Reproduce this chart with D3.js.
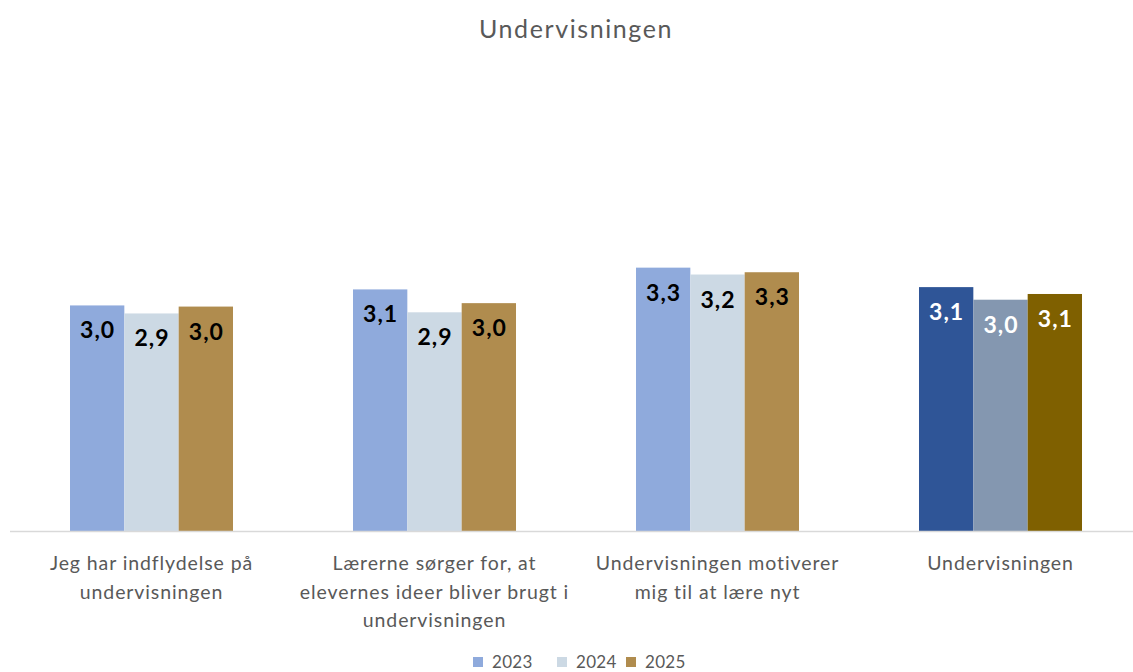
<!DOCTYPE html>
<html><head><meta charset="utf-8">
<script src="https://cdn.jsdelivr.net/npm/d3@7"></script>
<style>body{margin:0;background:#fff}svg{display:block}</style>
</head><body>
<svg id="c" width="1133" height="672"></svg>
<script>
const title = "Undervisningen";
const categories = [
  ["Jeg har indflydelse på", "undervisningen"],
  ["Lærerne sørger for, at", "elevernes ideer bliver brugt i", "undervisningen"],
  ["Undervisningen motiverer", "mig til at lære nyt"],
  ["Undervisningen"]
];
const years = ["2023", "2024", "2025"];
const v2023 = [2.97, 3.11, 3.30, 3.13];
const v2024 = [2.90, 2.91, 3.24, 3.02];
const v2025 = [2.96, 2.99, 3.26, 3.07];
const seriesValues = [v2023, v2024, v2025];
const colors = ["#8FAADC", "#CCD9E4", "#B08C4E"];
const totalColors = ["#2F5597", "#8497B0", "#7F6000"];
const yDomain = [1, 5];

const svg = d3.select("#c");
const font = "Lato, 'Open Sans', sans-serif";

const x0 = d3.scaleBand().domain(d3.range(categories.length)).range([10, 1142]).paddingInner(0.424).paddingOuter(0.212);
const x1 = d3.scaleBand().domain(years).range([0, x0.bandwidth()]);
const y = d3.scaleLinear().domain(yDomain).range([531, 73]);

svg.append("text").attr("x", 576).attr("y", 38).attr("text-anchor", "middle")
  .attr("font-family", font).attr("font-size", 25).attr("letter-spacing", 1.6)
  .attr("fill", "#595959").text(title);

const groups = svg.selectAll("g.grp").data(categories).join("g")
  .attr("transform", (d, i) => `translate(${x0(i)},0)`);

years.forEach((yr, s) => {
  groups.append("rect")
    .attr("x", x1(yr)).attr("width", x1.bandwidth())
    .attr("y", (d, i) => y(seriesValues[s][i]))
    .attr("height", (d, i) => y(yDomain[0]) - y(seriesValues[s][i]))
    .attr("fill", (d, i) => i === categories.length - 1 ? totalColors[s] : colors[s]);
  groups.append("text")
    .attr("x", x1(yr) + x1.bandwidth() / 2 + 0.5)
    .attr("y", (d, i) => y(seriesValues[s][i]) + 33)
    .attr("text-anchor", "middle")
    .attr("font-family", font).attr("font-weight", "bold").attr("font-size", 23)
    .attr("letter-spacing", 1)
    .attr("fill", (d, i) => i === categories.length - 1 ? "#ffffff" : "#000000")
    .text((d, i) => seriesValues[s][i].toFixed(1).replace(".", ","));
});

// axis line
svg.append("line").attr("x1", 10).attr("x2", 1142).attr("y1", 531.5).attr("y2", 531.5)
  .attr("stroke", "#D9D9D9").attr("stroke-width", 1.5);

// category labels
groups.each(function(lines, i) {
  const t = d3.select(this).append("text")
    .attr("text-anchor", "middle").attr("font-family", font)
    .attr("font-size", 19.5).attr("letter-spacing", 0.9).attr("fill", "#595959");
  lines.forEach((ln, k) => {
    t.append("tspan").attr("x", x0.bandwidth() / 2).attr("y", 570 + k * 28.5).text(ln);
  });
});

// legend
const legendX = [473, 557, 626];
const lg = svg.append("g");
years.forEach((yr, s) => {
  lg.append("rect").attr("x", legendX[s]).attr("y", 657).attr("width", 10).attr("height", 10).attr("fill", colors[s]);
  lg.append("text").attr("x", legendX[s] + 19).attr("y", 668).attr("font-family", font)
    .attr("font-size", 17).attr("letter-spacing", 0.3).attr("fill", "#595959").text(yr);
});
</script>
</body></html>
